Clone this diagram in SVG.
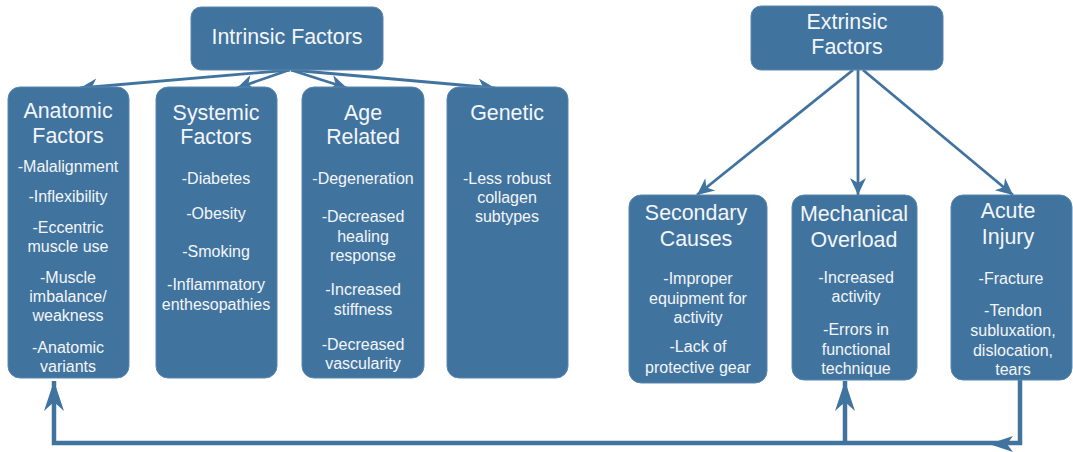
<svg xmlns="http://www.w3.org/2000/svg" width="1073" height="452" viewBox="0 0 1073 452">
<style>
.box{fill:#41739f;stroke:#5a87b0;stroke-width:1}
text{font-family:"Liberation Sans",Arial,sans-serif;fill:#f3f6f9;text-anchor:middle}
.t{font-size:21.4px}
.i{font-size:16px}
.thin{fill:none;stroke:#41739f;stroke-width:2.8}
.thick{fill:none;stroke:#41739f;stroke-width:4.5}
</style>
<defs>
<marker id="a" markerUnits="userSpaceOnUse" viewBox="-18 -9 19 18" refX="0" refY="0" markerWidth="19" markerHeight="18" orient="auto">
<path d="M0,0 L-17,-8 L-12,0 L-17,8 Z" fill="#41739f"/>
</marker>
<marker id="b" markerUnits="userSpaceOnUse" viewBox="-31 -11 32 22" refX="0" refY="0" markerWidth="32" markerHeight="22" orient="auto">
<path d="M0,0 L-30,-10 L-21,0 L-30,10 Z" fill="#41739f"/>
</marker>
</defs>
<g id="connectors">
<line class="thin" x1="290" y1="70" x2="80" y2="88" marker-end="url(#a)"/>
<line class="thin" x1="289" y1="70" x2="237" y2="88" marker-end="url(#a)"/>
<line class="thin" x1="291" y1="70" x2="347" y2="88" marker-end="url(#a)"/>
<line class="thin" x1="291" y1="70" x2="495" y2="88" marker-end="url(#a)"/>
<line class="thin" x1="853" y1="70" x2="697" y2="195" marker-end="url(#a)"/>
<line class="thin" x1="858" y1="70" x2="858" y2="195" marker-end="url(#a)"/>
<line class="thin" x1="863" y1="70" x2="1013" y2="195" marker-end="url(#a)"/>
<path class="thick" d="M1020,380 V443 H54 V381" marker-end="url(#b)"/>
<path class="thick" d="M845,443 V381" marker-end="url(#b)"/>
<path d="M989,444 L1013,436 L1007,444 L1013,452 Z" fill="#41739f"/>
</g>
<g id="intrinsic">
<rect class="box" x="191" y="7" width="192" height="63" rx="10"/>
<text class="t" x="287" y="44">Intrinsic Factors</text>
</g>
<g id="anatomic">
<rect class="box" x="8" y="87" width="121" height="291" rx="12"/>
<text class="t" x="68" y="118">Anatomic</text>
<text class="t" x="68" y="143">Factors</text>
<text class="i" x="68" y="172">-Malalignment</text>
<text class="i" x="68" y="202">-Inflexibility</text>
<text class="i" x="68" y="233">-Eccentric</text>
<text class="i" x="68" y="252">muscle use</text>
<text class="i" x="68" y="283">-Muscle</text>
<text class="i" x="68" y="302">imbalance/</text>
<text class="i" x="68" y="321">weakness</text>
<text class="i" x="68" y="353">-Anatomic</text>
<text class="i" x="68" y="372">variants</text>
</g>
<g id="systemic">
<rect class="box" x="156" y="87" width="121" height="291" rx="12"/>
<text class="t" x="216" y="120">Systemic</text>
<text class="t" x="216" y="144">Factors</text>
<text class="i" x="216" y="184">-Diabetes</text>
<text class="i" x="216" y="219">-Obesity</text>
<text class="i" x="216" y="257">-Smoking</text>
<text class="i" x="216" y="290">-Inflammatory</text>
<text class="i" x="216" y="310">enthesopathies</text>
</g>
<g id="age">
<rect class="box" x="302" y="87" width="122" height="291" rx="12"/>
<text class="t" x="363" y="120">Age</text>
<text class="t" x="363" y="144">Related</text>
<text class="i" x="363" y="184">-Degeneration</text>
<text class="i" x="363" y="222">-Decreased</text>
<text class="i" x="363" y="242">healing</text>
<text class="i" x="363" y="261">response</text>
<text class="i" x="363" y="295">-Increased</text>
<text class="i" x="363" y="315">stiffness</text>
<text class="i" x="363" y="350">-Decreased</text>
<text class="i" x="363" y="369">vascularity</text>
</g>
<g id="genetic">
<rect class="box" x="447" y="87" width="121" height="291" rx="12"/>
<text class="t" x="507" y="120">Genetic</text>
<text class="i" x="507" y="184">-Less robust</text>
<text class="i" x="507" y="203">collagen</text>
<text class="i" x="507" y="222">subtypes</text>
</g>
<g id="extrinsic">
<rect class="box" x="751" y="6" width="192" height="64" rx="10"/>
<text class="t" x="847" y="29">Extrinsic</text>
<text class="t" x="847" y="54">Factors</text>
</g>
<g id="secondary">
<rect class="box" x="629" y="195" width="138" height="188" rx="12"/>
<text class="t" x="696" y="220">Secondary</text>
<text class="t" x="696" y="246">Causes</text>
<text class="i" x="698" y="284">-Improper</text>
<text class="i" x="698" y="304">equipment for</text>
<text class="i" x="698" y="323">activity</text>
<text class="i" x="698" y="352">-Lack of</text>
<text class="i" x="698" y="373">protective gear</text>
</g>
<g id="mechanical">
<rect class="box" x="792" y="195" width="125" height="185" rx="12"/>
<text class="t" x="854" y="221">Mechanical</text>
<text class="t" x="854" y="247">Overload</text>
<text class="i" x="856" y="283">-Increased</text>
<text class="i" x="856" y="302">activity</text>
<text class="i" x="856" y="335">-Errors in</text>
<text class="i" x="856" y="355">functional</text>
<text class="i" x="856" y="374">technique</text>
</g>
<g id="acute">
<rect class="box" x="951" y="195" width="121" height="185" rx="12"/>
<text class="t" x="1008" y="218">Acute</text>
<text class="t" x="1008" y="244">Injury</text>
<text class="i" x="1011" y="284">-Fracture</text>
<text class="i" x="1013" y="316">-Tendon</text>
<text class="i" x="1013" y="336">subluxation,</text>
<text class="i" x="1013" y="356">dislocation,</text>
<text class="i" x="1013" y="375">tears</text>
</g>
</svg>
